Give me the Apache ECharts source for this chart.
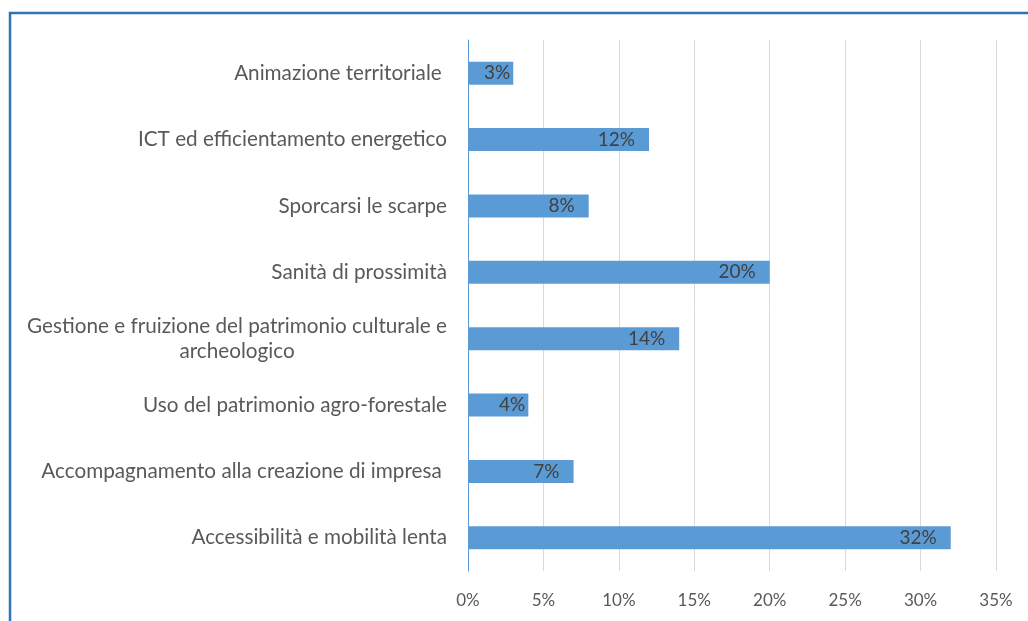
<!doctype html>
<html>
	<head>
		<meta charset="utf-8">
		<title>Progetti</title>
		<script type="text/javascript" src="https://cdn.jsdelivr.net/npm/echarts@6/dist/echarts.min.js"></script>
	</head>
	<body style="margin:0;padding:0;background:#fff">
		<div id="tb" style="width:1028px;height:621px;"></div>
		<script>
			// categorie dall'alto verso il basso
			var categorie = [
				'Animazione territoriale ',
				'ICT ed efficientamento energetico',
				'Sporcarsi le scarpe',
				'Sanità di prossimità',
				'Gestione e fruizione del patrimonio culturale e\narcheologico',
				'Uso del patrimonio agro-forestale',
				'Accompagnamento alla creazione di impresa ',
				'Accessibilità e mobilità lenta'
			];
			var valori = [3, 12, 8, 20, 14, 4, 7, 32];
			var tickX = [0, 5, 10, 15, 20, 25, 30, 35];

			var font = 'Lato, "Open Sans", sans-serif';
			var bt = document.getElementById('tb');
			var btchart = echarts.init(bt, null, {renderer: 'canvas'});

			btchart.setOption({
				animation: false,
				graphic: [{
					type: 'rect',
					shape: {x: 10, y: 13, width: 1200, height: 800},
					style: {fill: 'none', stroke: '#2E75B6', lineWidth: 2.5},
					silent: true
				}],
				grid: {left: 468, right: 32, top: 40, bottom: 50},
				xAxis: {
					type: 'value',
					min: tickX[0],
					max: tickX[tickX.length - 1],
					interval: 5,
					axisLine: {show: false},
					axisTick: {show: false},
					splitLine: {lineStyle: {color: '#D9D9D9', width: 1}},
					axisLabel: {
						margin: 21,
						color: '#595959',
						fontSize: 17,
						fontFamily: font,
						formatter: '{value}%'
					}
				},
				yAxis: {
					type: 'category',
					inverse: true,
					data: categorie,
					axisLine: {lineStyle: {color: '#5B9BD5', width: 1}},
					axisTick: {show: false},
					axisLabel: {
						margin: 21,
						color: '#595959',
						fontSize: 20.7,
						fontFamily: font,
						lineHeight: 25,
						formatter: function (v) {
							return v.split('\n').map(function (s) { return '{c|' + s + '}'; }).join('\n');
						},
						rich: {
							c: {align: 'center', color: '#595959', fontSize: 20.7, fontFamily: font, lineHeight: 25}
						}
					}
				},
				series: [{
					type: 'bar',
					barWidth: 23,
					itemStyle: {color: '#5B9BD5'},
					label: {
						show: true,
						position: 'insideRight',
						distance: 14,
						color: '#404040',
						fontSize: 19,
						fontFamily: font,
						formatter: '{c}%'
					},
					data: valori.map(function (v) {
						return v < 5 ? {value: v, label: {distance: 3}} : v;
					})
				}]
			});
		</script>
	</body>
</html>
